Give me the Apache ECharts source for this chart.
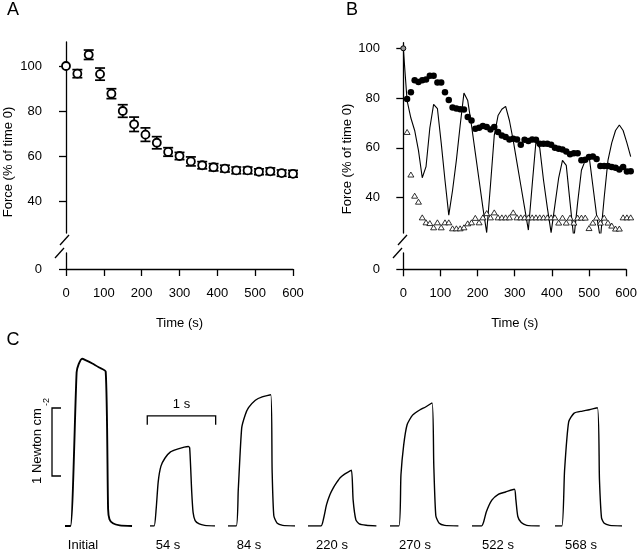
<!DOCTYPE html>
<html><head><meta charset="utf-8">
<script src="https://cdn.jsdelivr.net/npm/echarts@6/dist/echarts.min.js"></script>
<style>html,body{margin:0;padding:0;background:#fff}#c{width:640px;height:550px}</style>
</head><body><div id="c"></div>
<script>
// ---------- Panel A data ----------
const aTime  = [0,30,60,90,120,150,180,210,240,270,300,330,360,390,420,450,480,510,540,570,600];
const aForce = [100,96.6,105,96.4,87.7,80,74.1,69.5,65.9,61.8,60,57.6,55.9,55,54.4,53.6,53.6,53,53.2,52.4,52.1];
const aErr   = [0,1.8,2.1,2.7,2.2,2.8,3.2,3.0,2.7,1.9,1.6,2.0,1.6,1.6,1.5,1.5,1.5,1.3,1.5,1.4,1.5];
const aYTicks = [40,60,80,100];
const xTicks = [0,100,200,300,400,500,600];

// ---------- Panel B data ----------
const bTime = [0,10,20,30,40,50,60,70,80,90,100,110,120,130,140,150,160,170,180,190,200,
  210,220,230,240,250,260,270,280,290,300,310,320,330,340,350,360,370,380,390,400,
  410,420,430,440,450,460,470,480,490,500,510,520,530,540,550,560,570,580,590,600];
const bStartValue = 100;
const bFilled = [79.6,82.3,87.2,86.5,87.2,87.5,89,89,86.3,86.3,82.3,79.2,76.2,75.8,75.5,75.4,72.4,71,67.7,68.1,
  68.8,68.4,67.4,68.4,66.4,65,64.4,63.4,63.7,63.4,61.3,63.3,62.8,63.4,63.3,61.7,61.7,61.7,61.3,60.1,
  59.7,59.4,58.6,57.4,57.9,57.9,55,55.2,56.3,56.5,55.5,52.7,52.7,52.7,52.3,52,51.3,52.3,50.5,50.6];
const bTriangle = [66.4,49.3,40.8,38.4,32.1,30.1,29.8,28.1,30.1,28.1,30.1,30.1,27.7,27.7,27.7,28.1,29.7,30.1,31.9,30.1,
  32.1,33.8,32.1,34.1,32.1,32.1,32.1,32.1,34.1,32.1,32.1,32.1,32.1,32.1,32.1,32.1,32.1,32.1,32.1,32.1,
  30,32,30,32,30,32,32,32,27.8,30,32,30,32,30,28.8,27.6,27.6,32.1,32.1,32.1];
const bLine = [100,79,72,67,59,48,52.5,68,77.5,75.8,62,47,33,43,55,69,82,79,69,58,47,
  36,26,45,65,73,75.5,76.7,71,63,54,45,36,27,45,62.5,60,47,36,26,37,
  48,55,53,38,23.5,38,51,55,57,45,33,23.5,40,55,62,67,69.2,67,62,56.5];

// ---------- Panel C data (time in s, force in N/cm2) ----------
const traceNames = ['Initial','54 s','84 s','220 s','270 s','522 s','568 s'];
const cInitialT = [0,0.08,0.17,0.2,0.25,0.3,0.4,0.5,0.595,0.63,0.65,0.7,0.8,0.98];
const cInitialF = [0,0,2.26,2.38,2.46,2.44,2.39,2.33,2.27,0.25,0.1,0.04,0.01,0];
const c54T = [0,0.06,0.09,0.12,0.16,0.22,0.3,0.4,0.5,0.56,0.58,0.61,0.63,0.66,0.72,0.8,0.95];
const c54F = [0,0,0.25,0.65,0.88,1.0,1.09,1.13,1.16,1.17,1.15,0.5,0.2,0.08,0.03,0.01,0];
const c84T = [0,0.12,0.15,0.2,0.25,0.3,0.4,0.5,0.625,0.645,0.67,0.72,0.8,0.98];
const c84F = [0,0,0.53,1.44,1.63,1.74,1.85,1.9,1.93,0.82,0.15,0.04,0.01,0];
const c220T = [0,0.19,0.23,0.27,0.32,0.37,0.42,0.47,0.53,0.58,0.635,0.66,0.7,0.75,0.85,1.0];
const c220F = [0,0,0.12,0.31,0.46,0.56,0.64,0.71,0.76,0.79,0.82,0.38,0.09,0.03,0.01,0];
const c270T = [0,0.13,0.16,0.2,0.25,0.33,0.44,0.52,0.615,0.64,0.67,0.72,0.8,1.0];
const c270F = [0,0,0.75,1.19,1.49,1.63,1.71,1.75,1.81,0.9,0.15,0.04,0.01,0];
const c522T = [0,0.14,0.17,0.21,0.29,0.39,0.49,0.62,0.64,0.67,0.72,0.8,0.99];
const c522F = [0,0,0.06,0.21,0.38,0.47,0.5,0.54,0.4,0.14,0.05,0.01,0];
const c568T = [0,0.1,0.14,0.2,0.28,0.4,0.5,0.62,0.65,0.68,0.72,0.8,0.98];
const c568F = [0,0,0.82,1.53,1.66,1.69,1.71,1.74,0.68,0.12,0.04,0.01,0];
const traceT = [cInitialT,c54T,c84T,c220T,c270T,c522T,c568T];
const traceF = [cInitialF,c54F,c84F,c220F,c270F,c522F,c568F];

// ---------- layout ----------
const FONT = '"Liberation Sans", Arial, Helvetica, sans-serif';
const traceLeft = [65,150,228,308,390,472,555];
const labelX = [83,168,249,332,415,498,581];

const chart = echarts.init(document.getElementById('c'));

const axLine = {show:true, lineStyle:{color:'#000', width:1.3}};
const axTick = (vals)=>({show:true, length:7, inside:false, customValues:vals, lineStyle:{color:'#000', width:1.3}});
const axLab = (vals)=>({show:true, customValues:vals, margin:20, color:'#000', fontSize:13, fontFamily:FONT});

function topY(min,max,offset){
  return {type:'value', min:min, max:max, offset:offset, splitLine:{show:false},
    axisLine:axLine, axisTick:axTick(aYTicks), axisLabel:axLab(aYTicks)};
}
function botY(max,offset){
  return {type:'value', min:0, max:max, offset:offset, splitLine:{show:false},
    axisLine:axLine, axisTick:axTick([0]), axisLabel:axLab([0])};
}
function hiddenX(){ return {type:'value', min:0, max:600, show:false}; }
function timeX(){
  return {type:'value', min:0, max:600, interval:100, position:'bottom', splitLine:{show:false},
    axisLine:axLine, axisTick:{show:true, length:7, lineStyle:{color:'#000', width:1.3}},
    axisLabel:{color:'#000', fontSize:13, fontFamily:FONT, margin:18, showMinLabel:true, showMaxLabel:true},
    name:'Time (s)', nameLocation:'middle', nameGap:48,
    nameTextStyle:{color:'#000', fontSize:13, fontFamily:FONT}};
}

const grids = [
  {left:66, top:42, width:227, height:191},
  {left:66, top:253, width:227, height:16},
  {left:403.3, top:42.7, width:227.4, height:190.3},
  {left:403.3, top:253, width:227.4, height:16.3}
];
const xAxes = [hiddenX(), timeX(), hiddenX(), timeX()];
const yAxes = [topY(25.78,110.67,4), botY(7.11,4), topY(25.82,102.25,3.3), botY(6.55,3.3)];

traceLeft.forEach((l,i)=>{
  grids.push({left:l, top:349.2, width:68.4, height:176.8});
  xAxes.push({type:'value', min:0, max:1, show:false, gridIndex:4+i});
  yAxes.push({type:'value', min:0, max:2.6, show:false, gridIndex:4+i});
});
xAxes.forEach((a,i)=>{ if(a.gridIndex===undefined) a.gridIndex=i; });
yAxes.forEach((a,i)=>{ if(a.gridIndex===undefined) a.gridIndex=i; });

const series = [];
// A error bars
series.push({
  type:'custom', xAxisIndex:0, yAxisIndex:0, z:2,
  data: aTime.map((t,i)=>[t, aForce[i]-aErr[i], aForce[i]+aErr[i]]),
  renderItem:(params, api)=>{
    const lo = api.coord([api.value(0), api.value(1)]);
    const hi = api.coord([api.value(0), api.value(2)]);
    if (Math.abs(hi[1]-lo[1])<0.5) return null;
    const st = {stroke:'#000', lineWidth:1.7};
    return {type:'group', children:[
      {type:'line', shape:{x1:lo[0],y1:lo[1],x2:hi[0],y2:hi[1]}, style:st},
      {type:'line', shape:{x1:lo[0]-5,y1:lo[1],x2:lo[0]+5,y2:lo[1]}, style:st},
      {type:'line', shape:{x1:hi[0]-5,y1:hi[1],x2:hi[0]+5,y2:hi[1]}, style:st}
    ]};
  }
});
series.push({
  type:'scatter', xAxisIndex:0, yAxisIndex:0, z:3, symbol:'circle', symbolSize:8,
  itemStyle:{color:'#fff', borderColor:'#000', borderWidth:1.8, opacity:1},
  data: aTime.map((t,i)=>[t, aForce[i]])
});
// B
series.push({
  type:'line', xAxisIndex:2, yAxisIndex:2, z:2, showSymbol:false, smooth:false,
  lineStyle:{color:'#000', width:1.1}, data: bTime.map((t,i)=>[t, bLine[i]])
});
series.push({
  type:'scatter', xAxisIndex:2, yAxisIndex:2, z:3, symbol:'triangle', symbolSize:[6,5],
  itemStyle:{color:'#fff', borderColor:'#000', borderWidth:0.8, opacity:1},
  data: bTime.slice(1).map((t,i)=>[t, bTriangle[i]])
});
series.push({
  type:'scatter', xAxisIndex:2, yAxisIndex:2, z:4, symbol:'circle', symbolSize:6.5,
  itemStyle:{color:'#000', opacity:1},
  data: bTime.slice(1).map((t,i)=>[t, bFilled[i]])
});
series.push({
  type:'scatter', xAxisIndex:2, yAxisIndex:2, z:4, symbol:'circle', symbolSize:5,
  itemStyle:{color:'#999', borderColor:'#000', borderWidth:1, opacity:1},
  data: [[bTime[0], bStartValue]]
});
// C traces
traceT.forEach((T,i)=>{
  series.push({
    type:'line', xAxisIndex:4+i, yAxisIndex:4+i, showSymbol:false, smooth:0.2,
    lineStyle:{color:'#000', width: i===0 ? 1.9 : 1.4},
    data: T.map((t,k)=>[t, traceF[i][k]])
  });
});

chart.setOption({
  animation:false, backgroundColor:'#fff',
  grid:grids, xAxis:xAxes, yAxis:yAxes, series:series
});

// ---------- annotations (positions derived from the axes) ----------
const txt = (text, x, y, size, opts)=>Object.assign({type:'text', x:x, y:y,
  style:{text:text, fill:'#000', font: size+'px '+FONT, align:'center', verticalAlign:'middle'}}, opts||{});
const ln = (x1,y1,x2,y2,w)=>({type:'line', shape:{x1,y1,x2,y2}, style:{stroke:'#000', lineWidth:w||1.2}});

const g = [];
g.push(txt('A', 13, 10, 18));
g.push(txt('B', 352, 10, 18));
g.push(txt('C', 13, 340, 18));
g.push(txt('Force (% of time 0)', 8, 162, 13, {rotation:Math.PI/2}));
g.push(txt('Force (% of time 0)', 347, 159, 13, {rotation:Math.PI/2}));

// axis breaks
[[0,4],[2,3.3]].forEach(([gi,off])=>{
  const p = chart.convertToPixel({gridIndex:gi}, [0, yAxes[gi].min]);
  const ax = p[0]-off, yb = p[1];
  g.push(ln(ax-2, yb+12, ax+7, yb+2, 1.3));
  g.push(ln(ax-7, yb+25, ax+2, yb+15, 1.3));
});

// scale bars in panel C
const v0 = chart.convertToPixel({gridIndex:4}, [-0.19, 0.735]);
const v1 = chart.convertToPixel({gridIndex:4}, [-0.19, 1.735]);
g.push({type:'polyline', shape:{points:[[v1[0]+9,v1[1]],[v1[0],v1[1]],[v0[0],v0[1]],[v0[0]+9,v0[1]]]},
  style:{stroke:'#000', lineWidth:1.3, fill:null}});
g.push(txt('1 Newton cm', v0[0]-15, (v0[1]+v1[1])/2+4, 13, {rotation:Math.PI/2}));
g.push(txt('-2', v1[0]-5, v1[1]-6, 9, {rotation:Math.PI/2}));
const h0 = chart.convertToPixel({gridIndex:5}, [-0.04, 1.62]);
const h1 = chart.convertToPixel({gridIndex:5}, [0.96, 1.62]);
g.push({type:'polyline', shape:{points:[[h0[0],h0[1]+9],[h0[0],h0[1]],[h1[0],h1[1]],[h1[0],h1[1]+9]]},
  style:{stroke:'#000', lineWidth:1.3, fill:null}});
g.push(txt('1 s', (h0[0]+h1[0])/2, h0[1]-11, 13));

traceNames.forEach((n,i)=>{ g.push(txt(n, labelX[i], 545, 13)); });

chart.setOption({graphic:g});
</script>
</body></html>
